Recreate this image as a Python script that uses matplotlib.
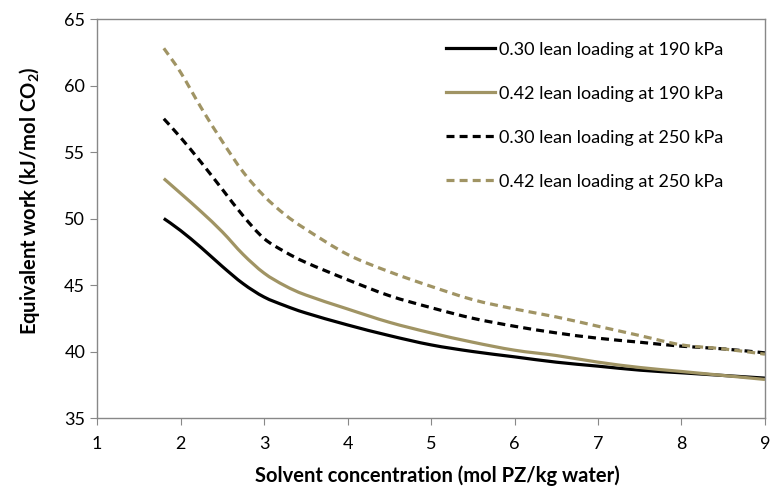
import matplotlib
matplotlib.use("Agg")
import matplotlib.pyplot as plt
from matplotlib.path import Path
from matplotlib.patches import PathPatch
from matplotlib.lines import Line2D

plt.rcParams['font.family'] = ['Lato', 'DejaVu Sans']
plt.rcParams['mathtext.default'] = 'regular'

conc = [1.8, 2.0, 2.25, 2.5, 2.75, 3.0, 3.25, 3.5, 4.0, 4.5, 5.0, 5.5, 6.0, 6.5, 7.0, 7.5, 8.0, 8.5, 9.0]
w030_190 = [50.0, 49.1, 47.8, 46.4, 45.1, 44.1, 43.45, 42.9, 42.0, 41.2, 40.5, 40.0, 39.6, 39.2, 38.9, 38.6, 38.4, 38.2, 38.0]
w042_190 = [53.0, 51.9, 50.5, 49.0, 47.3, 45.9, 44.95, 44.25, 43.2, 42.2, 41.4, 40.7, 40.1, 39.7, 39.2, 38.8, 38.5, 38.2, 37.9]
w030_250 = [57.5, 56.1, 54.2, 52.2, 50.2, 48.5, 47.5, 46.7, 45.4, 44.2, 43.3, 42.5, 41.9, 41.4, 41.0, 40.7, 40.4, 40.2, 39.9]
w042_250 = [62.8, 61.0, 58.3, 55.8, 53.5, 51.7, 50.3, 49.2, 47.3, 46.0, 44.9, 43.9, 43.2, 42.6, 41.9, 41.2, 40.5, 40.2, 39.8]
labels = ["0.30 lean loading at 190 kPa", "0.42 lean loading at 190 kPa",
          "0.30 lean loading at 250 kPa", "0.42 lean loading at 250 kPa"]

black = "#000000"
gold = "#A09464"
grey = "#888888"


def smooth_path(xs, ys):
    """Smoothed line through the data points (Catmull-Rom as cubic Bezier)."""
    pts = list(zip(xs, ys))
    n = len(pts)
    verts = [pts[0]]
    codes = [Path.MOVETO]
    for i in range(n - 1):
        p0 = pts[i - 1] if i > 0 else pts[i]
        p1 = pts[i]
        p2 = pts[i + 1]
        p3 = pts[i + 2] if i + 2 < n else pts[i + 1]
        c1 = (p1[0] + (p2[0] - p0[0]) / 6.0, p1[1] + (p2[1] - p0[1]) / 6.0)
        c2 = (p2[0] - (p3[0] - p1[0]) / 6.0, p2[1] - (p3[1] - p1[1]) / 6.0)
        verts += [c1, c2, p2]
        codes += [Path.CURVE4] * 3
    return Path(verts, codes)


fig = plt.figure(figsize=(7.7, 4.88), dpi=100)
ax = fig.add_axes([0.126, 0.1434, 0.8675, 0.8176])

lw = 2.3
dash = (0, (2.5, 1.6))
series = [(w030_190, black, '-'), (w042_190, gold, '-'),
          (w030_250, black, dash), (w042_250, gold, dash)]
handles = []
for (vals, col, ls), lab in zip(series, labels):
    ax.add_patch(PathPatch(smooth_path(conc, vals), fill=False, edgecolor=col,
                           lw=lw, linestyle=ls, capstyle='butt'))
    handles.append(Line2D([], [], color=col, lw=lw, linestyle=ls, label=lab))

ax.set_xlim(1, 9)
ax.set_ylim(35, 65)
ax.set_xticks(range(1, 10))
ax.set_yticks(range(35, 66, 5))
for s in ax.spines.values():
    s.set_color(grey)
    s.set_linewidth(1.0)
ax.tick_params(axis='both', colors=grey, labelcolor='black', labelsize=13,
               length=5, direction='out')
ax.tick_params(axis='x', pad=8)

ax.set_xlabel("Solvent concentration (mol PZ/kg water)", fontsize=14.5, fontweight='bold')
ax.set_ylabel(r"Equivalent work (kJ/mol CO$_2$)", fontsize=14.5, fontweight='bold')
ax.xaxis.set_label_coords(0.51, -0.118)
ax.yaxis.set_label_coords(-0.082, 0.545)

ax.legend(handles=handles, loc='upper right', bbox_to_anchor=(0.957, 0.975), frameon=False,
          fontsize=13, handlelength=2.7, handletextpad=0.25, labelspacing=1.55,
          borderaxespad=0.3)

fig.savefig("out.png", dpi=100)
